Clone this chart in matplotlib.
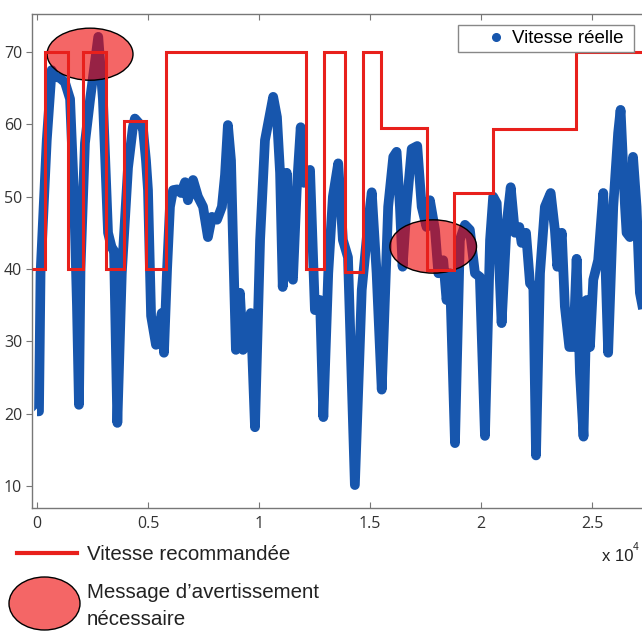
import matplotlib.pyplot as plt
from matplotlib.patches import Ellipse
from matplotlib.lines import Line2D

speed_x = [0.000, 0.009, 0.016, 0.044, 0.066, 0.081, 0.104, 0.126, 0.149, 0.167,
           0.180, 0.189, 0.196, 0.216, 0.239, 0.276, 0.297, 0.320, 0.336, 0.347,
           0.362, 0.382, 0.410, 0.432, 0.441, 0.464, 0.477, 0.491, 0.500, 0.509,
           0.514, 0.536, 0.562, 0.572, 0.586, 0.599, 0.613, 0.631, 0.649, 0.667,
           0.680, 0.703, 0.725, 0.748, 0.770, 0.788, 0.811, 0.833, 0.847, 0.860,
           0.874, 0.883, 0.896, 0.914, 0.928, 0.945, 0.963, 0.982, 1.005, 1.027,
           1.064, 1.081, 1.095, 1.107, 1.125, 1.140, 1.153, 1.170, 1.188, 1.203,
           1.230, 1.252, 1.275, 1.290, 1.312, 1.333, 1.357, 1.378, 1.401, 1.432,
           1.463, 1.492, 1.508, 1.530, 1.553, 1.582, 1.605, 1.620, 1.635, 1.647,
           1.665, 1.688, 1.713, 1.733, 1.755, 1.770, 1.793, 1.808, 1.830, 1.845,
           1.860, 1.883, 1.905, 1.928, 1.950, 1.973, 1.995, 2.018, 2.041, 2.055,
           2.071, 2.093, 2.116, 2.134, 2.153, 2.173, 2.183, 2.203, 2.221, 2.236,
           2.248, 2.266, 2.288, 2.314, 2.333, 2.344, 2.364, 2.378, 2.398, 2.416,
           2.431, 2.446, 2.462, 2.476, 2.491, 2.506, 2.528, 2.551, 2.573, 2.596,
           2.618, 2.629, 2.649, 2.656, 2.671, 2.685, 2.701, 2.716, 2.739]
speed_y = [20.3, 20.3, 39.4, 57.8, 67.5, 66.6, 66.4, 65.8, 63.5, 50.0,
           35.0, 21.2, 40.0, 57.4, 63.4, 72.1, 63.4, 45.0, 43.0, 42.5,
           18.7, 39.4, 54.0, 59.6, 60.8, 60.0, 59.5, 55.0, 50.9, 39.4,
           33.5, 29.5, 33.9, 28.4, 40.0, 48.6, 50.9, 51.0, 50.5, 52.0,
           49.5, 52.3, 50.0, 48.6, 44.4, 47.2, 46.8, 48.6, 53.0, 59.9,
           55.0, 44.0, 28.8, 36.7, 28.8, 31.5, 33.9, 18.1, 44.0, 57.8,
           63.8, 61.0, 53.3, 37.5, 53.3, 39.4, 38.5, 50.9, 59.6, 51.9,
           53.7, 34.3, 35.7, 19.5, 39.4, 50.0, 54.6, 44.0, 41.6, 10.1,
           37.1, 46.3, 50.6, 39.4, 23.3, 48.6, 55.5, 56.2, 48.6, 40.3,
           48.6, 56.6, 57.0, 48.6, 45.8, 49.5, 45.4, 39.4, 41.2, 35.7,
           39.4, 15.9, 44.0, 46.1, 45.4, 39.4, 38.9, 16.9, 44.0, 50.0,
           49.1, 32.5, 46.3, 51.3, 45.0, 45.8, 43.6, 45.0, 38.0, 37.5,
           14.2, 39.4, 48.6, 50.5, 45.4, 40.3, 45.0, 34.8, 29.2, 29.2,
           41.4, 25.6, 16.8, 35.7, 29.2, 38.5, 41.2, 50.5, 28.4, 48.6,
           58.8, 62.0, 48.6, 45.0, 44.4, 55.5, 48.6, 36.7, 33.0]

# recommended speed, piecewise constant
rec_edges = [-0.0225, 0.035, 0.141, 0.209, 0.311, 0.392, 0.491, 0.580, 1.212,
             1.293, 1.387, 1.467, 1.548, 1.758, 1.880, 2.053, 2.428, 2.74]
rec_levels = [40, 70, 40, 70, 40, 60.5, 40, 70, 40, 70, 39.6, 70, 59.5,
              39.8, 50.5, 59.3, 70]

# warning zones: (centre x, centre y, width, height)
warn_zones = [(0.239, 69.7, 0.387, 7.2), (1.785, 43.1, 0.39, 7.37)]

xticks = [0, 0.5, 1, 1.5, 2, 2.5]
xlabels = ['0', '0.5', '1', '1.5', '2', '2.5']
yticks = [10, 20, 30, 40, 50, 60, 70]

blue = '#1756ad'
red = '#e8201c'
warn_face = (0.93, 0.0, 0.0, 0.6)
W, H = 642, 631

fig = plt.figure(figsize=(W / 100, H / 100), dpi=100)
ax = fig.add_axes([32 / W, 1 - 508 / H, (645 - 32) / W, (508 - 14) / H])

ax.plot(speed_x, speed_y, color=blue, lw=7, solid_joinstyle='round',
        solid_capstyle='butt', zorder=2)
for cx, cy, w, h in warn_zones:
    ax.add_patch(Ellipse((cx, cy), w, h, facecolor=warn_face,
                         edgecolor='black', lw=1.0, zorder=3))
ax.stairs(rec_levels, rec_edges, baseline=None, color=red, lw=2.2, zorder=4)

ax.set_xlim(-0.0225, 2.739)
ax.set_ylim(6.93, 75.26)
ax.set_xticks(xticks)
ax.set_xticklabels(xlabels)
ax.set_yticks(yticks)

for s in ax.spines.values():
    s.set_color('#777777')
    s.set_linewidth(1.0)
ax.tick_params(axis='x', direction='in', top=True, length=4, color='#777777',
               labelsize=11.5, labelcolor='#333333', pad=6)
ax.tick_params(axis='y', direction='out', length=4, color='#777777',
               labelsize=11.5, labelcolor='#333333', pad=3)
ax.tick_params(axis='y', which='both', right=True)
for lab in ax.get_xticklabels() + ax.get_yticklabels():
    lab.set_family('Open Sans')

handle = Line2D([], [], ls='none', marker='o', markersize=5.5, color=blue)
leg = ax.legend([handle], ['Vitesse réelle '], loc='upper right',
                bbox_to_anchor=((634 - 32) / 613, (508 - 25) / 494),
                borderaxespad=0, fancybox=False, framealpha=1,
                edgecolor='#888888', handlelength=3.57, handletextpad=-0.93,
                borderpad=0.27, numpoints=1,
                prop={'family': 'Liberation Sans', 'size': 13.5})
leg.get_frame().set_linewidth(1.0)
leg.set_zorder(6)

# legend items below the axes
fig.add_artist(Line2D([17 / W, 77 / W], [1 - 553 / H] * 2, color=red, lw=3))
fig.text(87 / W, 1 - 560 / H, 'Vitesse recommandée', family='Liberation Sans',
         fontsize=14.8, color='#222222', va='baseline')
fig.add_artist(Ellipse((44.5 / W, 1 - 603.5 / H), 71 / W, 53 / H,
                       transform=fig.transFigure, facecolor=warn_face,
                       edgecolor='black', lw=1.0))
fig.text(87 / W, 1 - 598 / H, 'Message d’avertissement',
         family='Liberation Sans', fontsize=14.8, color='#222222',
         va='baseline')
fig.text(87 / W, 1 - 625 / H, 'nécessaire', family='Liberation Sans',
         fontsize=14.8, color='#222222', va='baseline')
fig.text(602 / W, 1 - 561 / H, 'x 10', family='Liberation Sans',
         fontsize=12, color='#222222', va='baseline')
fig.text(633 / W, 1 - 550 / H, '4', family='Liberation Sans',
         fontsize=7.5, color='#222222', va='baseline')

fig.savefig('out.png', dpi=100)
